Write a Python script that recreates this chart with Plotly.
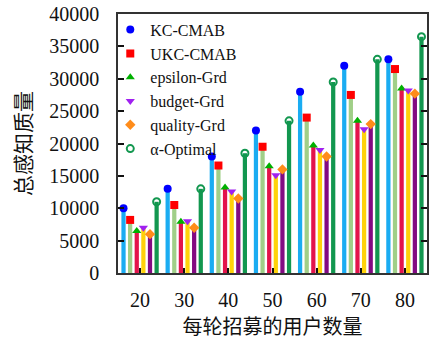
import plotly.graph_objects as go

users = [20, 30, 40, 50, 60, 70, 80]
tick_labels = ["20", "30", "40", "50", "60", "70", "80"]

kc_cmab = [10000, 13000, 18000, 22000, 28000, 32000, 33000]
ukc_cmab = [8200, 10500, 16600, 19500, 24000, 27500, 31500]
epsilon_grd = [6500, 7900, 13200, 16500, 19700, 23500, 28500]
budget_grd = [7000, 8000, 12600, 15100, 19000, 22200, 28200]
quality_grd = [6000, 7000, 11500, 16000, 18000, 23000, 27700]
alpha_optimal = [11000, 13000, 18500, 23500, 29500, 33000, 36500]

series_names = ["KC-CMAB", "UKC-CMAB", "epsilon-Grd", "budget-Grd", "quality-Grd", "α-Optimal"]
series_values = [kc_cmab, ukc_cmab, epsilon_grd, budget_grd, quality_grd, alpha_optimal]

bar_colors = ["#1AACF2", "#A0CF88", "#E3144B", "#FFD20A", "#820A82", "#12974F"]
marker_colors = ["#0000FF", "#FF0000", "#00B000", "#A020F0", "#FF8C1A", "#12974F"]
marker_symbols = ["circle", "square", "triangle-up", "triangle-down", "diamond", "circle-open"]

bargap = 0.1
group_width = 10
n = len(series_names)
pitch = group_width * (1 - bargap) / n

fig = go.Figure()

for i, (name, vals) in enumerate(zip(series_names, series_values)):
    fig.add_trace(go.Bar(
        x=users, y=vals, name=name, showlegend=False,
        marker=dict(color=bar_colors[i], line=dict(width=0)),
    ))

for i, (name, vals) in enumerate(zip(series_names, series_values)):
    xs = [u + (i - (n - 1) / 2) * pitch for u in users]
    open_sym = marker_symbols[i].endswith("open")
    fig.add_trace(go.Scatter(
        x=xs, y=vals, name=name, mode="markers", cliponaxis=False,
        marker=dict(
            symbol=marker_symbols[i], size=8 if not open_sym else 7,
            color=marker_colors[i],
            line=dict(width=2 if open_sym else 0, color=marker_colors[i]),
        ),
    ))

serif = "Liberation Serif, Noto Sans CJK SC"
axis_color = "#333333"

fig.update_layout(
    width=430, height=340,
    margin=dict(l=118, r=1, t=14, b=67),
    plot_bgcolor="white", paper_bgcolor="white",
    barmode="group", bargap=bargap, bargroupgap=0.36,
    font=dict(family=serif, size=19, color="#111111"),
    legend=dict(
        x=-0.025, y=1.005, xanchor="left", yanchor="top",
        bgcolor="rgba(0,0,0,0)", borderwidth=0,
        font=dict(family=serif, size=16, color="#111111"),
        tracegroupgap=0,
    ),
    xaxis=dict(
        range=[15, 85], tickmode="array", tickvals=users, ticktext=tick_labels,
        ticks="inside", ticklen=5, tickwidth=1.5, tickcolor="#111111",
        showline=True, linecolor=axis_color, linewidth=1.5, mirror=True,
        showgrid=False, zeroline=False,
        ticklabelstandoff=8,
        tickfont=dict(family=serif, size=20),
        title=dict(text="每轮招募的用户数量", font=dict(family="Noto Sans CJK SC", size=20), standoff=10),
    ),
    yaxis=dict(
        range=[0, 40000], tickmode="linear", tick0=0, dtick=5000, tickformat="d",
        ticks="inside", ticklen=6, tickwidth=1.5, tickcolor="#111111",
        showline=True, linecolor=axis_color, linewidth=1.5, mirror="ticks",
        showgrid=False, zeroline=False,
        ticklabelstandoff=13,
        tickfont=dict(family=serif, size=20),
        title=dict(text="总感知质量", font=dict(family="Noto Sans CJK SC", size=21), standoff=12),
    ),
)

fig.write_html("out.html")
